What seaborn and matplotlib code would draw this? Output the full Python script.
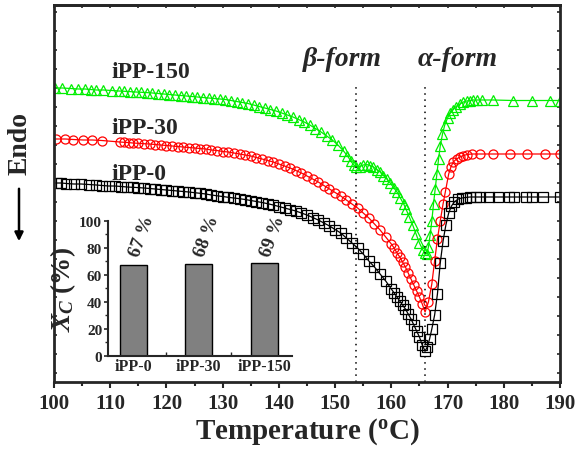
import numpy as np
import pandas as pd
import matplotlib
matplotlib.use("Agg")
import matplotlib.pyplot as plt
import seaborn as sns

# ---------------- data ----------------
# temperature (deg C) and heat-flow reading (arbitrary units, pixel rows from the top of the picture)
t_ipp0 = [100.5, 101.3, 102.2, 103.5, 104.8, 106.2, 107.5, 108.6, 109.7, 110.8, 112, 113, 114, 115,
          116, 117, 118, 119, 120, 121, 122, 123, 124, 125, 126, 127, 128, 129, 130, 131, 132, 133,
          134, 135, 136, 137, 138, 139, 140, 141, 142, 143, 144, 145, 146, 147, 148, 149, 150, 151,
          152, 153, 154, 155, 156, 157, 158, 159, 160, 160.5, 161, 161.5, 162, 162.5, 163, 163.5,
          164, 164.5, 165, 165.5, 166, 166.4, 166.8, 167.2, 167.7, 168.2, 168.7, 169.2, 169.7, 170.2,
          170.7, 171.2, 171.9, 172.5, 173.2, 174, 175, 175.8, 177.3, 178.9, 180.9, 181.9, 184, 185,
          187, 190]
p_ipp0 = [184, 184, 184.5, 185, 185, 185.5, 186, 186.5, 187, 187, 187.5, 188, 188.3, 188.6,
          189, 189.5, 190, 190.5, 191, 191.5, 192, 192.5, 193, 193.7, 194.3, 195, 196, 196.8, 197.5, 198.3, 199, 199.7,
          200.5, 201.5, 202.5, 203.5, 204.7, 206, 207.5, 209, 210.5, 212, 214, 216, 218.5, 221, 224, 227, 230.5, 234,
          239, 244, 249, 255, 262, 268, 275, 282, 290, 294, 298, 302, 306, 310, 315, 320,
          326, 332, 338, 346, 352, 348, 340, 330, 316, 295, 264, 242, 226, 214,
          207, 203, 200, 199, 198.5, 198, 198, 198, 198, 198, 198, 198, 198, 198,
          198, 198]

t_ipp30 = [100.3, 102, 103.4, 105.2, 106.8, 108.5, 111.7, 112.5, 113.3, 114, 115, 116, 117, 118,
           119, 120, 121, 122, 123, 124, 125, 126, 127, 128, 129, 130, 131, 132, 133, 134, 135, 136,
           137, 138, 139, 140, 141, 142, 143, 144, 145, 146, 147, 148, 149, 150, 151, 152, 153, 154,
           155, 156, 157, 158, 159, 160, 160.5, 161, 161.5, 162, 162.5, 163, 163.5, 164, 164.5, 165,
           165.5, 166, 166.6, 167.2, 167.7, 168.2, 168.7, 169.2, 169.6, 170.2, 170.6, 171, 171.6,
           172.2, 172.8, 173.5, 174.3, 175.8, 178.1, 181.1, 184.1, 187.3, 190]
p_ipp30 = [140, 140, 140.5, 141, 141, 141.5, 143, 143.3, 143.6, 144, 144.3, 144.7, 145, 145.5,
           146, 146.5, 147, 147.5, 148, 148.5, 149, 149.5, 150, 151, 151.5, 152.5, 153, 154, 155, 156, 157, 158.5,
           160, 161.5, 163, 165, 167, 169, 171.5, 174, 177, 180, 183, 186.5, 190, 193.5, 197, 201, 205, 209,
           214, 219, 225, 231, 238, 245, 249, 254, 258, 263, 268, 274, 280, 286, 292, 298,
           305, 313, 303, 285, 262, 240, 222, 205, 193, 175, 168, 163, 160,
           158, 156.5, 155.5, 155, 155, 155, 155, 155, 155, 155]

t_ipp150 = [100.2, 101.5, 103, 104.3, 105.5, 106.5, 107.5, 108.8, 110.3, 111.5, 112.5, 113.5, 114.5,
            115.5, 116.5, 117.5, 118.5, 119.5, 120.5, 121.5, 122.5, 123.5, 124.5, 125.5, 126.5, 127.5,
            128.5, 129.5, 130.5, 131.5, 132.5, 133.5, 134.5, 135.5, 136.5, 137.5, 138.5, 139.5, 140.5,
            141.5, 142.5, 143.5, 144.5, 145.5, 146.5, 147.5, 148.5, 149.5, 150.5, 151.5, 152.2, 152.8,
            153.3, 153.8, 154.4, 155, 155.6, 156.2, 156.8, 157.4, 158, 158.6, 159.2, 159.8, 160.4, 161,
            161.6, 162.2, 162.6, 163.2, 163.8, 164.4, 165, 165.6, 166, 166.3, 166.6, 166.9, 167.2, 167.5,
            167.8, 168.1, 168.4, 168.7, 169.1, 169.5, 170, 170.5, 171, 171.5, 172.2, 172.8, 173.4, 174,
            174.5, 175.2, 176.1, 178.1, 181.6, 185, 188.2, 190]
p_ipp150 = [89, 89, 89.5, 90, 90, 90.5, 91, 91, 91.5, 92, 92.3, 92.6, 93,
            93.3, 93.6, 94, 94.5, 95, 95.5, 96, 96.5, 97, 97.5, 98, 98.5, 99,
            99.5, 100, 100.5, 101.5, 102.5, 103.5, 104.5, 106, 107.5, 109, 110.5, 112, 114,
            116, 118, 120.5, 123, 126, 129.5, 133, 137, 141, 146, 152, 157, 162,
            166, 168, 167.5, 166, 165.5, 166.5, 168, 170.5, 173, 176.5, 180, 184, 188.5, 193,
            199, 205, 210, 218, 226, 235, 244, 251, 254, 255, 248, 236, 222, 205,
            190, 175, 160, 147, 135, 126, 119, 114, 110.5, 107.5, 105, 103, 102, 101.5,
            101, 101, 101, 101, 101.5, 101.5, 101.5, 101.5]

samples = ["iPP-0", "iPP-30", "iPP-150"]
xc_values = [67, 68, 69]
xc_labels = ["67 %", "68 %", "69 %"]
x_ticks = [100, 110, 120, 130, 140, 150, 160, 170, 180, 190]
beta_T = 153.8
alpha_T = 166.0

# pixel rows -> upward heat-flow units
BASE = 384
h_ipp0 = [BASE - v for v in p_ipp0]
h_ipp30 = [BASE - v for v in p_ipp30]
h_ipp150 = [BASE - v for v in p_ipp150]

# ---------------- style ----------------
sns.set_style("ticks")
plt.rcParams["font.family"] = ["Liberation Serif", "DejaVu Serif"]
plt.rcParams["font.weight"] = "bold"
plt.rcParams["mathtext.fontset"] = "custom"
plt.rcParams["mathtext.rm"] = "Liberation Serif:bold"
plt.rcParams["mathtext.it"] = "Liberation Serif:italic:bold"
plt.rcParams["mathtext.bf"] = "Liberation Serif:bold"

fig = plt.figure(figsize=(5.79, 4.56), dpi=100)
ax = fig.add_axes([54 / 579, 1 - 382.7 / 456, 506 / 579, 376.7 / 456])

series = [
    (t_ipp150, h_ipp150, "^", "#00ee00"),
    (t_ipp30, h_ipp30, "o", "#ff0000"),
    (t_ipp0, h_ipp0, "s", "#000000"),
]
for t, h, m, c in series:
    sns.lineplot(x=t, y=h, ax=ax, estimator=None, sort=False, color=c, lw=0.9,
                 marker=m, ms=6.5, mfc="none", mec=c, mew=0.9)

ax.set_xlim(100, 190)
ax.set_ylim(1.3, 378)
ax.set_xticks(x_ticks)
ax.set_xticks(np.arange(105, 190, 10), minor=True)
ax.set_yticks(np.arange(10, 378, 19))
ax.set_yticklabels([])
ax.tick_params(axis="x", which="both", direction="out", width=1.5)
ax.tick_params(axis="x", which="major", length=4, labelsize=15, pad=4)
ax.tick_params(axis="x", which="minor", length=3)
ax.tick_params(axis="y", direction="in", left=True, right=True, length=2.5, width=1.2)
for lab in ax.get_xticklabels():
    lab.set_fontweight("bold")
for s in ax.spines.values():
    s.set_linewidth(2)
ax.set_xlabel(r"Temperature ($^\mathregular{o}$C)", fontsize=21, fontweight="bold", labelpad=2)
ax.set_ylabel("")

top = ax.secondary_xaxis("top")
top.set_xticks(np.arange(100, 191, 5))
top.set_xticklabels([])
top.tick_params(direction="in", length=2.5, width=1.2)
top.spines["top"].set_linewidth(2)

# dotted reference lines
ax.plot([beta_T, beta_T], [1.3, 299], ls=(0, (1, 3)), color="black", lw=1.1)
ax.plot([alpha_T, alpha_T], [1.3, 299], ls=(0, (1, 3)), color="black", lw=1.1)

ax.text(144.3, 324, "β-form", fontsize=20, fontstyle="italic", fontweight="bold", va="center", ha="left")
ax.text(164.7, 324, "α-form", fontsize=20, fontstyle="italic", fontweight="bold", va="center", ha="left")

ax.text(110.3, 312, "iPP-150", fontsize=17, fontweight="bold", va="center", ha="left")
ax.text(110.3, 256, "iPP-30", fontsize=17, fontweight="bold", va="center", ha="left")
ax.text(110.3, 209, "iPP-0", fontsize=17, fontweight="bold", va="center", ha="left")

# Endo label with arrow
fig.text(20 / 579, 1 - 143.5 / 456, "Endo", rotation=90, fontsize=20, fontweight="bold",
         ha="center", va="center")
fig.add_artist(matplotlib.patches.FancyArrowPatch(
    (19 / 579, 1 - 187 / 456), (19 / 579, 1 - 245 / 456), transform=fig.transFigure,
    arrowstyle="-|>,head_length=5,head_width=2.5", color="black", lw=1.8))

# ---------------- inset bar chart ----------------
ins = fig.add_axes([107.7 / 579, 1 - 356.7 / 456, 184 / 579, 135 / 456])
ins.patch.set_alpha(0)
df = pd.DataFrame({"sample": samples, "xc": xc_values})
sns.barplot(data=df, x="sample", y="xc", ax=ins, color="#808080", edgecolor="black",
            linewidth=1.0, width=0.41, saturation=1)
ins.set_xlim(-0.39, 2.42)
ins.set_ylim(0, 100)
ins.set_yticks([0, 20, 40, 60, 80, 100])
ins.set_yticks([10, 30, 50, 70, 90], minor=True)
ins.set_xticks([0.5, 1.5], minor=True)
for s in ["top", "right"]:
    ins.spines[s].set_visible(False)
for s in ["left", "bottom"]:
    ins.spines[s].set_linewidth(1.5)
ins.tick_params(axis="y", which="major", direction="out", length=3, labelsize=11, pad=1, width=1.2)
ins.tick_params(axis="y", which="minor", direction="out", length=2, width=1)
ins.tick_params(axis="x", which="major", length=0, labelsize=11.5, pad=2)
ins.tick_params(axis="x", which="minor", direction="in", length=3, width=1)
for lab in ins.get_xticklabels() + ins.get_yticklabels():
    lab.set_fontweight("bold")
ins.set_xlabel("")
ins.set_ylabel(r"$X_C$ (%)", fontsize=19.5, fontweight="bold", labelpad=1)
for i, lab in enumerate(xc_labels):
    ins.text(i + 0.13, 88.7, lab, rotation=70, fontsize=13.5, ha="center", va="center", fontweight="bold")

fig.savefig("out.png", dpi=100)
